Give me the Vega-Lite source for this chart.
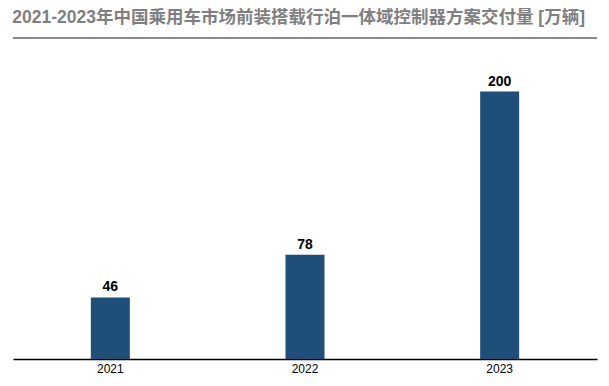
{
  "$schema": "https://vega.github.io/schema/vega-lite/v6.json",
  "width": 609,
  "height": 386,
  "autosize": {"type": "fit", "contains": "padding"},
  "padding": {"left": 12, "right": 11, "top": 8, "bottom": 12},
  "background": "white",
  "config": {
    "view": {"stroke": null},
    "font": "Liberation Sans, Noto Sans CJK SC, sans-serif"
  },
  "title": {
    "text": "2021-2023年中国乘用车市场前装搭载行泊一体域控制器方案交付量 [万辆]",
    "anchor": "start",
    "fontSize": 17.5,
    "fontWeight": "bold",
    "color": "#7f7f7f",
    "font": "Liberation Sans, Noto Sans CJK SC, sans-serif",
    "offset": 11
  },
  "data": {
    "values": [
      {"year": "2021", "value": 46},
      {"year": "2022", "value": 78},
      {"year": "2023", "value": 200}
    ]
  },
  "layer": [
    {
      "mark": {"type": "bar", "color": "#1f4e79", "width": 39},
      "encoding": {
        "x": {
          "field": "year",
          "type": "nominal",
          "title": null,
          "axis": {
            "labelAngle": 0,
            "labelFontSize": 12,
            "labelColor": "#000000",
            "ticks": false,
            "domainColor": "#000000",
            "domainWidth": 1.5,
            "labelPadding": 4
          }
        },
        "y": {
          "field": "value",
          "type": "quantitative",
          "scale": {"domain": [0, 240], "nice": false},
          "axis": null
        }
      }
    },
    {
      "mark": {"type": "text", "baseline": "bottom", "dy": -3, "fontSize": 14, "fontWeight": "bold", "color": "#000000"},
      "encoding": {
        "x": {"field": "year", "type": "nominal"},
        "y": {"field": "value", "type": "quantitative"},
        "text": {"field": "value", "type": "quantitative"}
      }
    },
    {
      "mark": {"type": "rule", "color": "#888888", "strokeWidth": 1.5},
      "encoding": {
        "y": {"datum": 240}
      }
    }
  ]
}
